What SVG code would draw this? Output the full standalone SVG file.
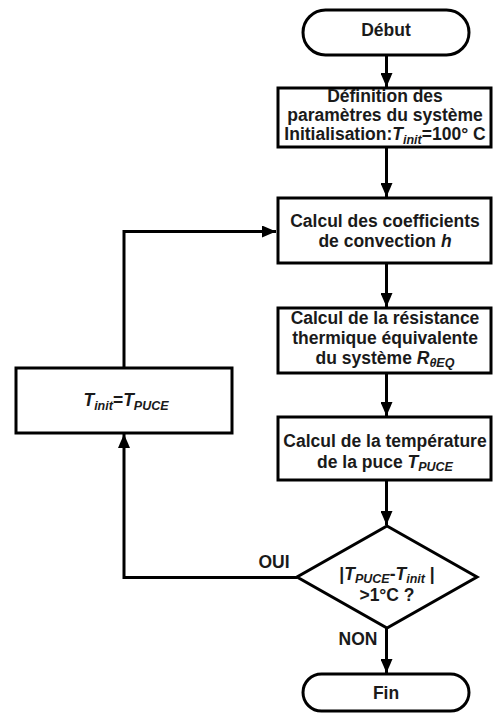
<svg xmlns="http://www.w3.org/2000/svg" width="493" height="716" viewBox="0 0 493 716">
<style>
.n{fill:#fff;stroke:#000;stroke-width:3}
.c{fill:none;stroke:#000;stroke-width:3}
text{font-family:"Liberation Sans",Arial,sans-serif;font-weight:bold;font-size:17.5px;fill:#1a1a1a;text-anchor:middle}
.i{font-style:italic}
.s{font-style:italic;font-size:12.5px}
</style>
<defs>
<marker id="a" markerUnits="userSpaceOnUse" markerWidth="14" markerHeight="12" refX="14" refY="6" orient="auto">
<path d="M0,0 L14,6 L0,12 Z" fill="#000"/>
</marker>
</defs>
<g id="connectors">
<line class="c" x1="386.5" y1="55" x2="386.5" y2="87" marker-end="url(#a)"/>
<line class="c" x1="386.5" y1="147" x2="386.5" y2="197" marker-end="url(#a)"/>
<line class="c" x1="386.5" y1="263" x2="386.5" y2="307" marker-end="url(#a)"/>
<line class="c" x1="386.5" y1="373" x2="386.5" y2="416" marker-end="url(#a)"/>
<line class="c" x1="386.5" y1="480" x2="386.5" y2="525" marker-end="url(#a)"/>
<line class="c" x1="386.5" y1="628" x2="386.5" y2="673" marker-end="url(#a)"/>
<polyline class="c" points="297,577.5 124,577.5 124,434" marker-end="url(#a)"/>
<polyline class="c" points="124,368 124,231.5 276,231.5" marker-end="url(#a)"/>
<text x="274" y="568">OUI</text>
<text x="358" y="645">NON</text>
</g>
<g id="debut">
<rect class="n" x="303" y="10" width="166" height="45" rx="22.5"/>
<text x="386" y="36">Début</text>
</g>
<g id="definition">
<rect class="n" x="278" y="88" width="213" height="59"/>
<text x="385" y="102">Définition des</text>
<text x="385" y="121">paramètres du système</text>
<text x="385" y="140">Initialisation:<tspan class="i">T</tspan><tspan class="s" dy="4">init</tspan><tspan dy="-4">=100° C</tspan></text>
</g>
<g id="convection">
<rect class="n" x="278" y="198" width="213" height="65"/>
<text x="385" y="227">Calcul des coefficients</text>
<text x="385" y="247">de convection <tspan class="i">h</tspan></text>
</g>
<g id="resistance">
<rect class="n" x="278" y="308" width="213" height="65"/>
<text x="385" y="324">Calcul de la résistance</text>
<text x="385" y="344">thermique équivalente</text>
<text x="385" y="364">du système <tspan class="i">R</tspan><tspan class="s" dy="3">θEQ</tspan></text>
</g>
<g id="temperature">
<rect class="n" x="278" y="417" width="213" height="63"/>
<text x="385" y="447">Calcul de la température</text>
<text x="385" y="468">de la puce <tspan class="i">T</tspan><tspan class="s" dy="3">PUCE</tspan></text>
</g>
<g id="decision">
<polygon class="n" points="387,526 477,577 387,628 297,577"/>
<text x="387" y="580">|<tspan class="i">T</tspan><tspan class="s" dy="3">PUCE</tspan><tspan dy="-3">-</tspan><tspan class="i">T</tspan><tspan class="s" dy="3">init</tspan><tspan dy="-3"> |</tspan></text>
<text x="387" y="601">&gt;1°C ?</text>
</g>
<g id="maj">
<rect class="n" x="16" y="368" width="216" height="65"/>
<text x="126" y="406"><tspan class="i">T</tspan><tspan class="s" dy="4">init</tspan><tspan dy="-4">=</tspan><tspan class="i">T</tspan><tspan class="s" dy="4">PUCE</tspan></text>
</g>
<g id="fin">
<rect class="n" x="303" y="674" width="166" height="37" rx="18.5"/>
<text x="386" y="699">Fin</text>
</g>
</svg>
